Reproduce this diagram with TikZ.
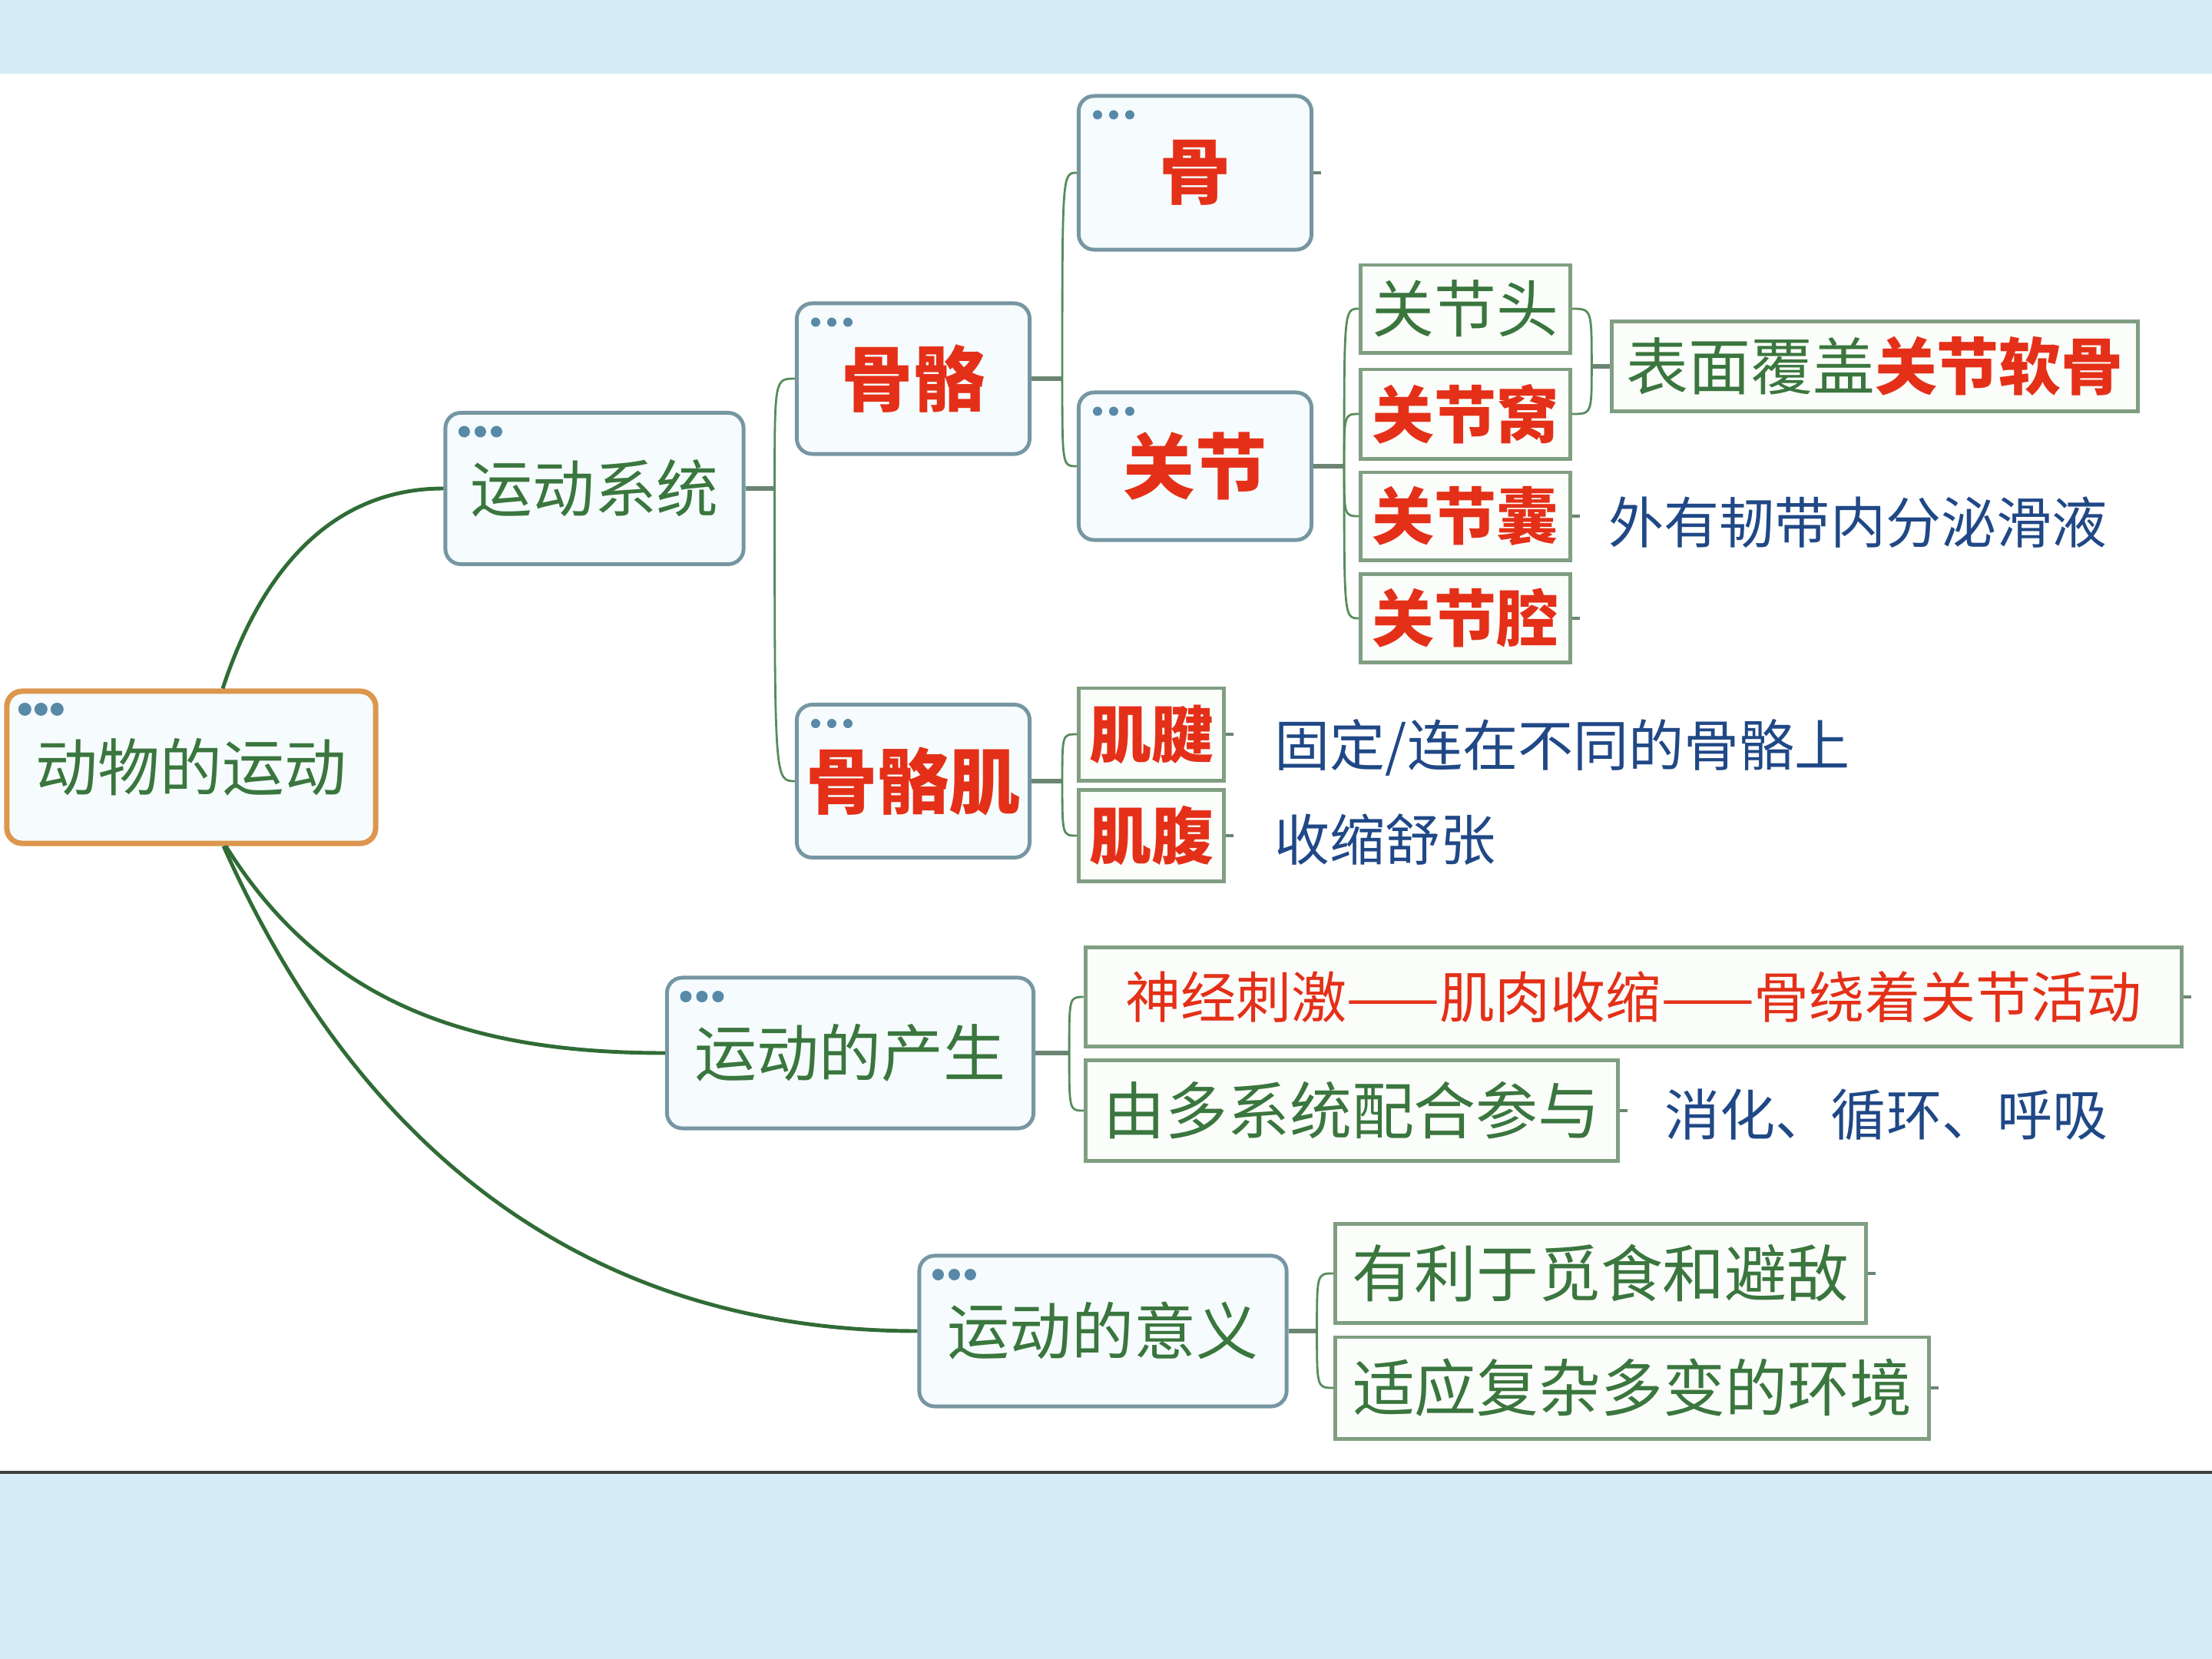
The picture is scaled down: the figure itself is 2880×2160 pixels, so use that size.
\documentclass[tikz,border=0pt]{standalone}
\usepackage{fontspec}
\setmainfont{Noto Sans CJK SC}
\definecolor{txtgreen}{RGB}{58,118,62}
\definecolor{txtred}{RGB}{228,48,24}
\definecolor{txtblue}{RGB}{32,72,134}
\definecolor{topicline}{RGB}{118,150,162}
\definecolor{topicfill}{RGB}{246,252,253}
\definecolor{leafline}{RGB}{128,158,130}
\definecolor{leaffill}{RGB}{251,253,250}
\definecolor{rootline}{RGB}{220,150,78}
\definecolor{linkgreen}{RGB}{48,108,54}
\definecolor{spinegreen}{RGB}{88,140,92}
\definecolor{stubgray}{RGB}{108,132,114}
\definecolor{dotblue}{RGB}{88,138,168}
\definecolor{bandblue}{RGB}{214,236,246}
\newcommand\bigfont{\fontsize{26.5pt}{28pt}\selectfont}
\newcommand\midfont{\fontsize{23pt}{25pt}\selectfont}
\newcommand\notefont{\fontsize{20.5pt}{22pt}\selectfont}
\newcommand\topicdots[2][0.075cm]{\foreach \k in {0,1,2}\fill[dotblue] (#2.north west) ++(27+21*\k,27) circle (#1);}
\begin{document}
\begin{tikzpicture}[x=0.01cm,y=-0.01cm,
  topic/.style={draw=topicline,line width=1.4pt,rounded corners=0.2cm,fill=topicfill,inner sep=0pt},
  rootbox/.style={topic,draw=rootline,line width=2pt},
  leaf/.style={draw=leafline,line width=1.4pt,fill=leaffill,inner sep=0pt},
  gtxt/.style={text=txtgreen,font=\midfont},
  rtxt/.style={text=txtred,font=\midfont\bfseries},
  note/.style={text=txtblue,font=\notefont,inner sep=0pt,anchor=west},
  rootlink/.style={draw=linkgreen,line width=1.4pt},
  stub/.style={draw=stubgray,line width=1.6pt},
  spine/.style={draw=spinegreen,line width=0.8pt}]
\useasboundingbox (0,0) rectangle (2880,2160);
% background bands
\fill[bandblue] (0,0) rectangle (2880,96);
\fill[bandblue] (0,1917) rectangle (2880,2160);
\draw[line width=1.2pt,black!75] (0,1917) -- (2880,1917);

% topics
\node[rootbox,minimum width=4.8cm,minimum height=1.98cm,gtxt] (root) at (249,999) {动物的运动};
\node[topic,minimum width=3.88cm,minimum height=1.97cm,gtxt] (sys) at (774,636) {运动系统};
\node[topic,minimum width=3.03cm,minimum height=1.96cm,rtxt,font=\bigfont\bfseries] (guge) at (1189,493) {骨骼};
\node[topic,minimum width=3.03cm,minimum height=2cm,rtxt,font=\bigfont\bfseries] (gu) at (1556,225) {骨};
\node[topic,minimum width=3.03cm,minimum height=1.92cm,rtxt,font=\bigfont\bfseries] (guanjie) at (1556,607) {关节};
\node[topic,minimum width=3.03cm,minimum height=1.99cm,rtxt,font=\bigfont\bfseries] (gugeji) at (1189,1017) {骨骼肌};
\node[topic,minimum width=4.77cm,minimum height=1.96cm,gtxt] (chansheng) at (1107,1371) {运动的产生};
\node[topic,minimum width=4.78cm,minimum height=1.96cm,gtxt] (yiyi) at (1436,1733) {运动的意义};
\topicdots[0.085cm]{root}
\topicdots{sys}
\topicdots[0.06cm]{guge}
\topicdots[0.06cm]{gu}
\topicdots[0.06cm]{guanjie}
\topicdots[0.06cm]{gugeji}
\topicdots{chansheng}
\topicdots{yiyi}

% leaves
\node[leaf,minimum width=2.72cm,minimum height=1.14cm,gtxt] (tou) at (1908,402) {关节头};
\node[leaf,minimum width=2.72cm,minimum height=1.16cm,rtxt] (wo) at (1908,539) {关节窝};
\node[leaf,minimum width=2.72cm,minimum height=1.14cm,rtxt] (nang) at (1908,672) {关节囊};
\node[leaf,minimum width=2.72cm,minimum height=1.15cm,rtxt] (qiang) at (1908,805) {关节腔};
\node[leaf,minimum width=6.84cm,minimum height=1.17cm,gtxt] (ruangu) at (2441,477) {表面覆盖\textcolor{txtred}{\bfseries 关节软骨}};
\node[leaf,minimum width=1.89cm,minimum height=1.2cm,rtxt] (jijian) at (1499,956) {肌腱};
\node[leaf,minimum width=1.89cm,minimum height=1.19cm,rtxt] (jifu) at (1499,1088) {肌腹};
\node[leaf,minimum width=14.27cm,minimum height=1.29cm,rtxt,font=\notefont] (shenjing) at (2127,1298) {神经刺激——肌肉收缩——骨绕着关节活动};
\node[leaf,minimum width=6.93cm,minimum height=1.31cm,gtxt] (duoxitong) at (1760,1446) {由多系统配合参与};
\node[leaf,minimum width=6.91cm,minimum height=1.29cm,gtxt] (mishi) at (2084,1658) {有利于觅食和避敌};
\node[leaf,minimum width=7.72cm,minimum height=1.32cm,gtxt] (shiying) at (2125,1807) {适应复杂多变的环境};

% notes
\node[note] (huaye) at (2094,680) {外有韧带内分泌滑液};
\node[note] (guding) at (1659,973) {固定/连在不同的骨骼上};
\node[note] (shousuo) at (1659,1093) {收缩舒张};
\node[note] (xiaohua) at (2167,1451) {消化、循环、呼吸};

% links from the root
\draw[rootlink] ([xshift=0.41cm]root.north) to[out=72,in=180] (sys.west);
\draw[rootlink] ([xshift=0.45cm]root.south) to[out=-58,in=180] (chansheng.west);
\draw[rootlink] ([xshift=0.42cm]root.south) to[out=-66,in=180] (yiyi.west);

% junctions
\path (sys.east) ++(38,0) coordinate (jsys);
\path (guge.east) ++(40,0) coordinate (jguge);
\path (guanjie.east) ++(40,0) coordinate (jguanjie);
\path (gugeji.east) ++(40,0) coordinate (jgugeji);
\path (chansheng.east) ++(44,0) coordinate (jchan);
\path (yiyi.east) ++(37,0) coordinate (jyiyi);
\path (ruangu.west) ++(-24,0) coordinate (jruan);
\foreach \p/\j in {sys/jsys,guge/jguge,guanjie/jguanjie,gugeji/jgugeji,chansheng/jchan,yiyi/jyiyi}
  \draw[stub] (\p.east) -- (\j);
\foreach \j/\c in {jsys/guge,jsys/gugeji,jguge/gu,jguge/guanjie,jguanjie/tou,jguanjie/wo,jguanjie/nang,jguanjie/qiang,jgugeji/jijian,jgugeji/jifu,jchan/shenjing,jchan/duoxitong,jyiyi/mishi,jyiyi/shiying}
  \draw[spine] (\j) .. controls (\j |- \c.west) .. (\c.west);
\foreach \c in {tou,wo}
  \draw[spine] (\c.east) .. controls (jruan |- \c.east) .. (jruan);
\draw[stub] (jruan) -- (ruangu.west);

% collapsed ends
\foreach \c in {gu,nang,qiang,jijian,jifu,shenjing,duoxitong,mishi,shiying}
  \draw[stub,line width=1pt] (\c.east) -- ++(10,0);
\end{tikzpicture}
\end{document}
